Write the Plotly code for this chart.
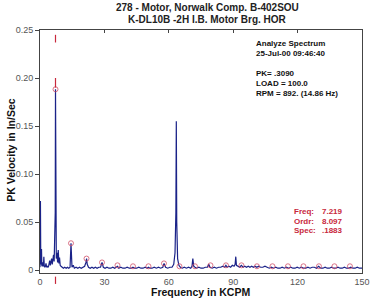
import plotly.graph_objects as go

# ---- data ----
freq = [
    0.0, 0.2, 0.35, 0.5, 0.7, 0.85, 1.0, 1.3, 1.6, 1.8,
    2.0, 2.4, 2.8, 3.1, 3.5, 3.9, 4.2, 4.5, 4.8, 5.1,
    5.4, 5.7, 6.0, 6.3, 6.6, 6.9, 7.1, 7.22, 7.35, 7.6,
    7.9, 8.2, 8.5, 8.8, 9.1, 9.4, 9.8, 10.3, 10.9, 11.5,
    12.2, 12.8, 13.4, 14.0, 14.44, 14.9, 15.5, 16.0, 16.8, 17.6,
    18.4, 19.2, 20.0, 20.8, 21.4, 21.7, 22.0, 22.6, 23.4, 24.2,
    25.0, 25.8, 26.6, 27.4, 28.2, 28.9, 29.5, 30.3, 31.2, 32.1,
    33.0, 33.9, 34.8, 35.6, 36.1, 36.7, 37.6, 38.6, 39.6, 40.6,
    41.6, 42.6, 43.3, 44.0, 45.0, 46.0, 47.0, 48.0, 49.0, 50.0,
    50.5, 51.2, 52.2, 53.2, 54.2, 55.2, 56.2, 57.2, 57.8, 58.5,
    59.5, 60.5, 61.5, 62.3, 62.9, 63.3, 63.5, 63.7, 64.1, 64.7,
    65.4, 66.3, 67.2, 68.2, 69.2, 70.2, 70.8, 71.2, 71.6, 72.2,
    73.0, 74.0, 75.0, 76.0, 77.0, 78.0, 78.6, 79.2, 80.2, 81.2,
    82.2, 83.2, 84.2, 85.2, 86.0, 86.6, 87.2, 88.0, 88.8, 89.6,
    90.4, 90.9, 91.2, 91.5, 92.2, 93.0, 93.8, 94.6, 95.4, 96.2,
    97.0, 97.8, 98.6, 99.4, 100.2, 101.0, 101.8, 102.8, 103.8, 104.8,
    105.8, 106.8, 107.8, 108.8, 109.8, 110.8, 111.8, 112.8, 113.8, 114.8,
    115.8, 116.8, 117.8, 118.8, 119.8, 120.8, 121.8, 122.8, 123.8, 124.8,
    125.8, 126.8, 127.8, 128.8, 129.8, 130.8, 131.8, 132.8, 133.8, 134.8,
    135.8, 136.8, 137.8, 138.8, 139.8, 140.8, 141.8, 142.8, 143.8, 144.8,
    145.8, 146.8, 147.8, 148.8, 150.0,
]
amp = [
    0.003, 0.072, 0.012, 0.006, 0.022, 0.005, 0.004, 0.008, 0.004, 0.014,
    0.004, 0.003, 0.007, 0.003, 0.004, 0.003, 0.006, 0.010, 0.005, 0.009,
    0.012, 0.006, 0.010, 0.016, 0.009, 0.032, 0.060, 0.1883, 0.040, 0.012,
    0.018, 0.008, 0.021, 0.007, 0.013, 0.005, 0.004, 0.003, 0.002, 0.003,
    0.002, 0.003, 0.002, 0.003, 0.028, 0.003, 0.005, 0.002, 0.003, 0.002,
    0.003, 0.002, 0.003, 0.004, 0.008, 0.012, 0.006, 0.003, 0.002, 0.003,
    0.002, 0.003, 0.002, 0.003, 0.003, 0.008, 0.003, 0.002, 0.003, 0.002,
    0.002, 0.003, 0.002, 0.003, 0.004, 0.002, 0.003, 0.002, 0.002, 0.003,
    0.002, 0.002, 0.003, 0.002, 0.002, 0.003, 0.002, 0.002, 0.003, 0.002,
    0.003, 0.002, 0.002, 0.003, 0.002, 0.003, 0.002, 0.003, 0.007, 0.003,
    0.002, 0.003, 0.003, 0.006, 0.018, 0.060, 0.155, 0.050, 0.012, 0.005,
    0.003, 0.002, 0.003, 0.002, 0.003, 0.002, 0.004, 0.012, 0.004, 0.003,
    0.002, 0.003, 0.002, 0.002, 0.003, 0.003, 0.006, 0.003, 0.002, 0.003,
    0.002, 0.003, 0.003, 0.004, 0.003, 0.005, 0.003, 0.004, 0.003, 0.005,
    0.004, 0.006, 0.014, 0.005, 0.004, 0.003, 0.005, 0.003, 0.004, 0.003,
    0.004, 0.003, 0.004, 0.003, 0.004, 0.003, 0.004, 0.003, 0.003, 0.004,
    0.003, 0.002, 0.003, 0.002, 0.003, 0.002, 0.002, 0.003, 0.002, 0.003,
    0.002, 0.003, 0.002, 0.002, 0.003, 0.002, 0.003, 0.002, 0.002, 0.003,
    0.002, 0.003, 0.003, 0.002, 0.004, 0.002, 0.002, 0.003, 0.002, 0.002,
    0.003, 0.002, 0.002, 0.003, 0.002, 0.002, 0.003, 0.002, 0.002, 0.003,
    0.002, 0.002, 0.003, 0.002, 0.002,
]

harm_freq = [7.22, 14.44, 21.66, 28.88, 36.10, 43.31, 50.53, 57.75, 64.97, 72.19,
             79.41, 86.63, 93.85, 101.07, 108.29, 115.50, 122.72, 129.94, 137.16, 144.38]
harm_amp = [0.1883, 0.028, 0.012, 0.008, 0.005, 0.004, 0.004, 0.007, 0.004, 0.004,
            0.005, 0.005, 0.005, 0.004, 0.004, 0.004, 0.004, 0.004, 0.004, 0.004]

cursor_freq = 7.219
cursor_top = [0.237, 0.245]
cursor_mid = [0.190, 0.200]

x_ticks = [0, 30, 60, 90, 120, 150]
y_ticks = [0, 0.05, 0.10, 0.15, 0.20, 0.25]
y_ticklabels = ["0", "0.05", "0.10", "0.15", "0.20", "0.25"]

title_lines = ["278 - Motor, Norwalk Comp. B-402SOU", "K-DL10B -2H I.B. Motor Brg. HOR"]
info_lines = ["Analyze Spectrum", "25-Jul-00 09:46:40", "", "PK= .3090", "LOAD = 100.0",
              "RPM = 892. (14.86 Hz)"]
cursor_labels = ["Freq:", "Ordr:", "Spec:"]
cursor_values = ["7.219", "8.097", ".1883"]

# ---- figure ----
NAVY = "#1a2288"
RED = "#c8283c"
FONT = "Liberation Sans, Arial, sans-serif"

fig = go.Figure()
fig.add_trace(go.Scatter(x=freq, y=amp, mode="lines",
                         line=dict(color=NAVY, width=1.2), hoverinfo="skip"))
fig.add_trace(go.Scatter(x=harm_freq, y=harm_amp, mode="markers",
                         marker=dict(symbol="circle-open", size=5, color="#d0506a",
                                     line=dict(width=0.8, color="#d0506a")),
                         hoverinfo="skip"))
fig.add_trace(go.Scatter(x=[cursor_freq, cursor_freq, None, cursor_freq, cursor_freq],
                         y=[cursor_mid[0], cursor_mid[1], None, cursor_top[0], cursor_top[1]],
                         mode="lines", line=dict(color=RED, width=1.2), hoverinfo="skip"))
# invisible trace on top axis for inside ticks
fig.add_trace(go.Scatter(x=[0, 150], y=[0, 0], xaxis="x2", mode="lines",
                         line=dict(width=0), hoverinfo="skip", showlegend=False))

# cursor mark below the axis
fig.add_shape(type="line", xref="x", yref="paper", x0=cursor_freq, x1=cursor_freq,
              y0=-0.015, y1=-0.045, line=dict(color=RED, width=1.2))

annotations = []
title_y = [8, 19]
for i, t in enumerate(title_lines):
    annotations.append(dict(text="<b>" + t + "</b>", xref="paper", yref="paper",
                            x=0.521, y=(273 - title_y[i]) / 243, showarrow=False,
                            xanchor="center", yanchor="middle",
                            font=dict(family=FONT, size=10, color="#222")))
for i, t in enumerate(info_lines):
    if t:
        annotations.append(dict(text="<b>" + t + "</b>", xref="paper", yref="paper",
                                x=0.665, y=(273 - (44 + i * 9.8)) / 243, showarrow=False,
                                xanchor="left", yanchor="middle",
                                font=dict(family=FONT, size=8, color="#111")))
for i, (lab, val) in enumerate(zip(cursor_labels, cursor_values)):
    yy = (273 - (212 + i * 9)) / 243
    annotations.append(dict(text="<b>" + lab + "</b>", xref="paper", yref="paper",
                            x=(298 - 40) / 330, y=yy, showarrow=False,
                            xanchor="left", yanchor="middle",
                            font=dict(family=FONT, size=8, color=RED)))
    annotations.append(dict(text="<b>" + val + "</b>", xref="paper", yref="paper",
                            x=(353 - 40) / 330, y=yy, showarrow=False,
                            xanchor="right", yanchor="middle",
                            font=dict(family=FONT, size=8, color=RED)))
annotations.append(dict(text="<b>PK Velocity in In/Sec</b>", xref="paper", yref="paper",
                        x=(10 - 40) / 330, y=(273 - 150) / 243, textangle=-90,
                        showarrow=False, xanchor="center", yanchor="middle",
                        font=dict(family=FONT, size=10.5, color="#111")))
annotations.append(dict(text="<b>Frequency in KCPM</b>", xref="paper", yref="paper",
                        x=(204 - 40) / 330, y=(273 - 292) / 243,
                        showarrow=False, xanchor="center", yanchor="middle",
                        font=dict(family=FONT, size=10.5, color="#111")))

fig.update_layout(
    width=375, height=302,
    margin=dict(l=40, r=5, t=30, b=29),
    paper_bgcolor="white", plot_bgcolor="white",
    showlegend=False,
    annotations=annotations,
    xaxis=dict(range=[0, 150], tickvals=x_ticks, ticktext=[str(v) for v in x_ticks],
               showgrid=False, zeroline=False, showline=True, mirror=True,
               linecolor="#444", linewidth=1, ticks="", ticklen=3,
               ticklabeloverflow="allow",
               tickfont=dict(family=FONT, size=9, color="#555")),
    xaxis2=dict(range=[0, 150], overlaying="x", side="top", tickvals=x_ticks,
                showticklabels=False, ticks="inside", ticklen=3, tickcolor="#444",
                showgrid=False, zeroline=False, showline=False),
    yaxis=dict(range=[-0.003, 0.25], tickvals=y_ticks, ticktext=y_ticklabels,
               showgrid=False, zeroline=False, showline=True, mirror=True,
               linecolor="#444", linewidth=1, ticks="outside", ticklen=4,
               tickcolor="#444",
               tickfont=dict(family=FONT, size=9, color="#555")),
)

fig.write_html("out.html")
